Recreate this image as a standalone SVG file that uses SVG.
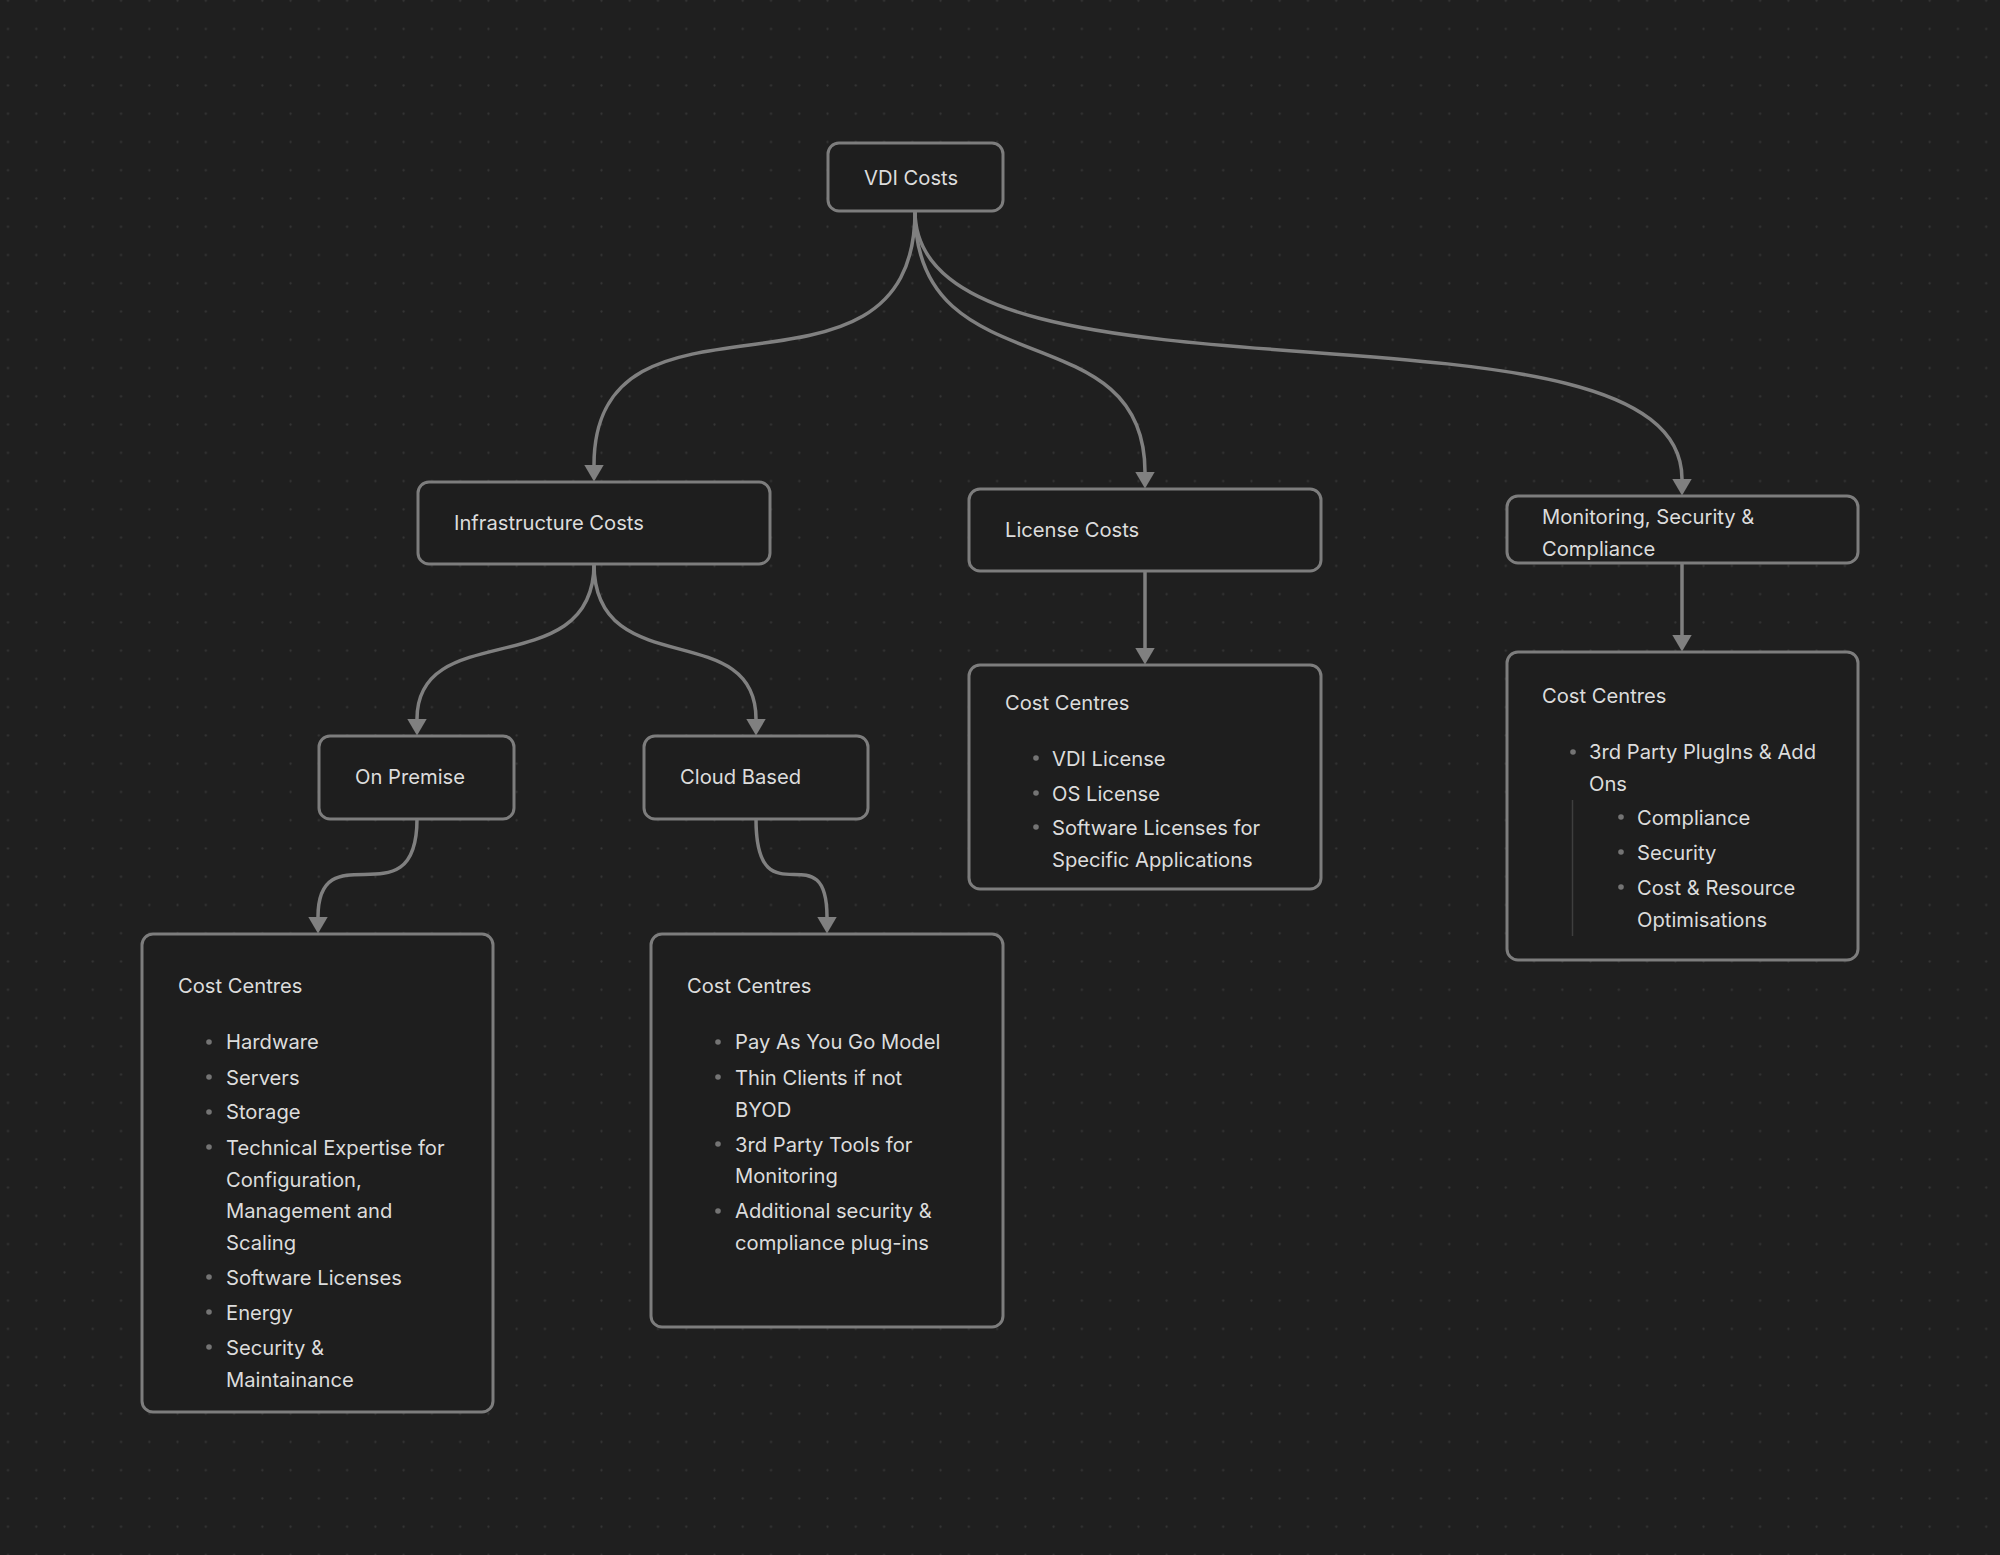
<svg xmlns="http://www.w3.org/2000/svg" width="2000" height="1555" viewBox="0 0 2000 1555">
  <defs>
    <pattern id="grid" patternUnits="userSpaceOnUse" x="-6.13" y="-13.43" width="28.26" height="28.26">
      <circle cx="14.13" cy="14.13" r="1.1" fill="#363636"/>
    </pattern>
    <marker id="arrow" markerUnits="userSpaceOnUse" markerWidth="18" markerHeight="21" viewBox="0 0 18 21" refX="0.5" refY="10.5" orient="auto">
      <path d="M0,0.5 L17,10.5 L0,20.5 Z" fill="#808080"/>
    </marker>
    <style>
      .node { fill: #1e1e1e; stroke: #7d7d7d; stroke-width: 3; }
      .t { font-family: Inter, "Noto Sans", "Liberation Sans", sans-serif; font-size: 20.2px; fill: #dcdcdc; }
      .b { fill: #747474; }
      .edge { fill: none; stroke: #808080; stroke-width: 3.5; marker-end: url(#arrow); }
    </style>
  </defs>
  <rect width="2000" height="1555" fill="#1f1f1f"/>
  <rect width="2000" height="1555" fill="url(#grid)"/>

  <g id="connectors">
    <path class="edge" d="M915,211 C915,431 594,262 594,465"/>
    <path class="edge" d="M915,211 C915,391 1145,309 1145,472"/>
    <path class="edge" d="M915,211 C915,431 1682,276 1682,479"/>
    <path class="edge" d="M594,564 C594,684 417,616 417,719"/>
    <path class="edge" d="M594,564 C594,684 756,616 756,719"/>
    <path class="edge" d="M417,819 C417,924 318,829 318,917"/>
    <path class="edge" d="M756,819 C756,924 827,829 827,917"/>
    <path class="edge" d="M1145,571 L1145,648"/>
    <path class="edge" d="M1682,563 L1682,635"/>
  </g>

  <g id="vdi-costs">
    <rect class="node" x="828" y="143" width="175" height="68" rx="11"/>
    <text class="t" x="864" y="185">VDI Costs</text>
  </g>

  <g id="infrastructure-costs">
    <rect class="node" x="418" y="482" width="352" height="82" rx="11"/>
    <text class="t" x="454" y="530">Infrastructure Costs</text>
  </g>

  <g id="license-costs">
    <rect class="node" x="969" y="489" width="352" height="82" rx="11"/>
    <text class="t" x="1005" y="537">License Costs</text>
  </g>

  <g id="monitoring">
    <rect class="node" x="1507" y="496" width="351" height="67" rx="11"/>
    <text class="t" x="1542" y="524">Monitoring, Security &amp;</text>
    <text class="t" x="1542" y="556">Compliance</text>
  </g>

  <g id="on-premise">
    <rect class="node" x="319" y="736" width="195" height="83" rx="11"/>
    <text class="t" x="355" y="784">On Premise</text>
  </g>

  <g id="cloud-based">
    <rect class="node" x="644" y="736" width="224" height="83" rx="11"/>
    <text class="t" x="680" y="784">Cloud Based</text>
  </g>

  <g id="on-premise-costs">
    <rect class="node" x="142" y="934" width="351" height="478" rx="11"/>
    <text class="t" x="178" y="993">Cost Centres</text>
    <circle class="b" cx="209" cy="1042" r="2.8"/>
    <text class="t" x="226" y="1049">Hardware</text>
    <circle class="b" cx="209" cy="1077" r="2.8"/>
    <text class="t" x="226" y="1085">Servers</text>
    <circle class="b" cx="209" cy="1112" r="2.8"/>
    <text class="t" x="226" y="1119">Storage</text>
    <circle class="b" cx="209" cy="1147" r="2.8"/>
    <text class="t" x="226" y="1155">Technical Expertise for</text>
    <text class="t" x="226" y="1187">Configuration,</text>
    <text class="t" x="226" y="1218">Management and</text>
    <text class="t" x="226" y="1250">Scaling</text>
    <circle class="b" cx="209" cy="1277" r="2.8"/>
    <text class="t" x="226" y="1285">Software Licenses</text>
    <circle class="b" cx="209" cy="1312" r="2.8"/>
    <text class="t" x="226" y="1320">Energy</text>
    <circle class="b" cx="209" cy="1347" r="2.8"/>
    <text class="t" x="226" y="1355">Security &amp;</text>
    <text class="t" x="226" y="1387">Maintainance</text>
  </g>

  <g id="cloud-costs">
    <rect class="node" x="651" y="934" width="352" height="393" rx="11"/>
    <text class="t" x="687" y="993">Cost Centres</text>
    <circle class="b" cx="718" cy="1042" r="2.8"/>
    <text class="t" x="735" y="1049">Pay As You Go Model</text>
    <circle class="b" cx="718" cy="1077" r="2.8"/>
    <text class="t" x="735" y="1085">Thin Clients if not</text>
    <text class="t" x="735" y="1117">BYOD</text>
    <circle class="b" cx="718" cy="1144" r="2.8"/>
    <text class="t" x="735" y="1152">3rd Party Tools for</text>
    <text class="t" x="735" y="1183">Monitoring</text>
    <circle class="b" cx="718" cy="1211" r="2.8"/>
    <text class="t" x="735" y="1218">Additional security &amp;</text>
    <text class="t" x="735" y="1250">compliance plug-ins</text>
  </g>

  <g id="license-cost-centres">
    <rect class="node" x="969" y="665" width="352" height="224" rx="11"/>
    <text class="t" x="1005" y="710">Cost Centres</text>
    <circle class="b" cx="1036" cy="758" r="2.8"/>
    <text class="t" x="1052" y="766">VDI License</text>
    <circle class="b" cx="1036" cy="793" r="2.8"/>
    <text class="t" x="1052" y="801">OS License</text>
    <circle class="b" cx="1036" cy="827" r="2.8"/>
    <text class="t" x="1052" y="835">Software Licenses for</text>
    <text class="t" x="1052" y="867">Specific Applications</text>
  </g>

  <g id="monitoring-cost-centres">
    <rect class="node" x="1507" y="652" width="351" height="308" rx="11"/>
    <text class="t" x="1542" y="703">Cost Centres</text>
    <circle class="b" cx="1573" cy="752" r="2.8"/>
    <text class="t" x="1589" y="759">3rd Party PlugIns &amp; Add</text>
    <text class="t" x="1589" y="791">Ons</text>
    <line x1="1572.5" y1="800" x2="1572.5" y2="936" stroke="#3e3e3e" stroke-width="1.5"/>
    <circle class="b" cx="1621" cy="817" r="2.8"/>
    <text class="t" x="1637" y="825">Compliance</text>
    <circle class="b" cx="1621" cy="852" r="2.8"/>
    <text class="t" x="1637" y="860">Security</text>
    <circle class="b" cx="1621" cy="887" r="2.8"/>
    <text class="t" x="1637" y="895">Cost &amp; Resource</text>
    <text class="t" x="1637" y="927">Optimisations</text>
  </g>
</svg>
